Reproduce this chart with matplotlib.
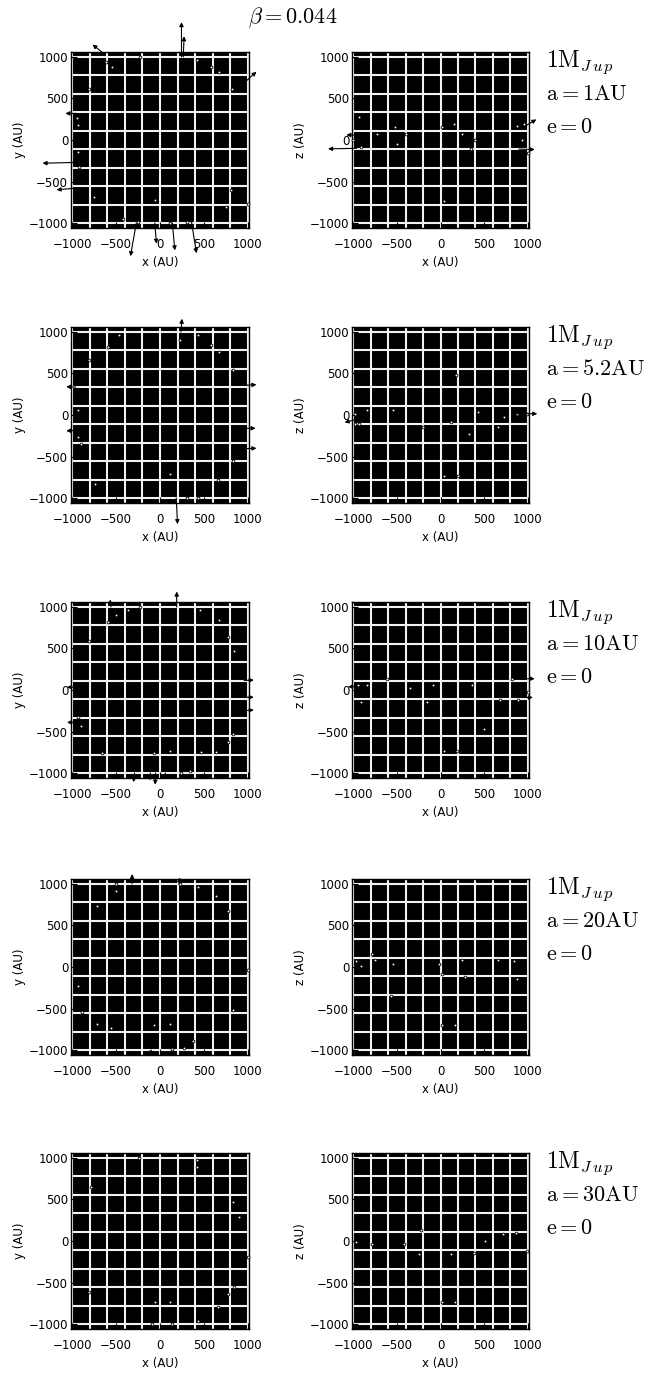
import numpy as np
import matplotlib
matplotlib.use("Agg")
import matplotlib.pyplot as plt

plt.rcParams['mathtext.fontset'] = 'cm'

# semi-major axis of the planet in each row
a_labels = ["1", "5.2", "10", "20", "30"]
beta = "0.044"

# particles seen in the x-y plane (AU), one list per row
xy_points = [
    [(-543, 883), (427, 964), (584, 883), (674, 822), (820, 620), (-809, 620),
     (-933, 176), (-921, -329), (-753, -689), (809, -608), (1000, -770),
     (753, -810), (-427, -947), (-247, -985), (-56, -717), (112, -1000),
     (303, -985), (-618, 940), (-225, 1000), (-933, -147), (-944, 269)],
    [(-596, 822), (-809, 660), (-470, 960), (438, 960), (584, 840), (674, 760),
     (831, 540), (-933, 55), (-933, -270), (-900, -350), (831, -550),
     (-740, -830), (112, -710), (303, -1000), (438, -1000), (663, -780), (225, 900)],
    [(-596, 822), (-506, 900), (-370, 960), (-225, 1000), (460, 960), (674, 842),
     (775, 640), (843, 470), (-809, 590), (-933, -330), (-900, -430),
     (-663, -753), (-64, -753), (112, -740), (236, -996), (337, -980),
     (472, -750), (640, -750), (775, -630), (831, -530)],
    [(-506, 1000), (-506, 920), (-720, 737), (225, 1000), (438, 960), (640, 860),
     (775, 680), (-933, -232), (-888, -545), (-720, -690), (-563, -730),
     (-64, -700), (112, -690), (135, -990), (270, -970), (372, -890),
     (831, -518), (1000, -32)],
    [(-236, 1000), (427, 976), (427, 895), (-786, 652), (831, 470), (900, 290),
     (1000, -196), (843, -560), (775, -640), (663, -800), (438, -963),
     (112, -740), (-56, -740), (-90, -1000), (135, -1000), (-809, -620)],
]

# particles seen in the x-z plane (AU), one list per row
xz_points = [
    [(-929, 276), (-730, 75), (-521, 152), (-502, -50), (-390, 75), (20, 152),
     (152, 190), (241, 75), (355, -104), (393, 0), (880, 170), (958, 190),
     (940, 0), (1000, -160), (-910, -90), (-1000, 0), (35, -733)],
    [(-985, 15), (-930, -105), (-840, 55), (-545, 55), (-205, -145), (115, -85),
     (175, 479), (325, -230), (430, 35), (660, -145), (730, -30), (880, 15),
     (995, 15), (45, -733), (195, -733), (-985, -105)],
    [(-950, 55), (-910, -148), (-840, 55), (-615, 135), (-350, 30), (-160, -148),
     (-85, 55), (366, 55), (495, -470), (683, -120), (815, 135), (890, -120),
     (1000, -20), (35, -730), (190, -730)],
    [(-965, 70), (-910, 10), (-790, 160), (-750, 80), (-545, 40), (-570, -354),
     (-20, 40), (15, -80), (245, 80), (280, -120), (660, 80), (845, 70),
     (880, -150), (15, -697), (170, -697)],
    [(-965, -15), (-790, -35), (-415, -35), (-225, 127), (-245, -160),
     (115, -160), (380, -140), (510, 0), (715, 80), (865, 100), (995, -120),
     (15, -740), (170, -740)],
]

# escaping particles drawn as arrows: (x0, y0, x1, y1) in AU
xy_arrows = [
    [(245, 1000, 245, 1420), (265, 1000, 275, 1250), (-640, 1040, -770, 1150),
     (955, 684, 1100, 822), (-950, 320, -1080, 320), (-960, -270, -1340, -280),
     (-960, -580, -1180, -600), (-270, -1000, -337, -1400), (-60, -1000, -40, -1250),
     (140, -1000, 170, -1330), (360, -990, 416, -1364)],
    [(240, 1000, 250, 1160), (-960, 337, -1070, 340), (-960, -188, -1070, -190),
     (960, 358, 1100, 365), (960, -160, 1090, -160), (960, -406, 1100, -400),
     (185, -1000, 200, -1315)],
    [(190, 1000, 191, 1186), (-560, 1000, -570, 1090), (-960, 34, -1060, 34),
     (-960, -390, -1060, -390), (960, 115, 1070, 120), (960, -87, 1070, -87),
     (960, -250, 1070, -240), (-290, -1000, -303, -1110), (-110, -1000, -115, -1090),
     (-50, -1000, -56, -1140), (60, -1000, 70, -1080)],
    [(-318, 1000, -318, 1121), (215, 1000, 225, 1080), (-100, -1000, -110, -1070)],
    [],
]

xz_arrows = [
    [(-960, -100, -1290, -107), (977, 170, 1100, 248), (900, -110, 1080, -115),
     (-980, 60, -1080, 60)],
    [(880, 15, 1110, 15), (-990, -60, -1100, -90)],
    [(940, 136, 1080, 136), (940, -90, 1060, -90), (-990, 40, -1060, 40)],
    [],
    [],
]

W, H = 651, 1376
fig = plt.figure(figsize=(W / 100, H / 100), dpi=100)

row_tops = [52, 327, 602, 879, 1153]
panel_h = 176
lefts = [71, 352]
widths = [178, 177]

tick_font = dict(family='DejaVu Sans', size=8.5)


def setup_panel(ax, ylab):
    ax.set_facecolor('black')
    ax.set_xlim(-1015, 1015)
    ax.set_ylim(-1060, 1060)
    ax.vlines(np.arange(-1000, 1001, 200), -1060, 1060, color='#f2f2f2', lw=1.5, zorder=1)
    ax.hlines(np.linspace(-1000, 1000, 10), -1015, 1015, color='#f2f2f2', lw=1.5, zorder=1)
    ticks = [-1000, -500, 0, 500, 1000]
    labels = [str(t).replace('-', '\u2212') for t in ticks]
    ax.set_xticks(ticks)
    ax.set_yticks(ticks)
    ax.set_xticklabels(labels, fontdict=tick_font)
    ax.set_yticklabels(labels, fontdict=tick_font)
    ax.tick_params(direction='in', length=4, color='black')
    ax.tick_params(axis='x', pad=7)
    ax.tick_params(axis='y', pad=2)
    ax.set_xlabel('x (AU)', fontdict=tick_font, labelpad=4)
    ax.set_ylabel(ylab + ' (AU)', fontdict=tick_font, labelpad=2)
    for s in ax.spines.values():
        s.set_color('black')
        s.set_linewidth(1.0)


def draw_particles(ax, pts, arrows):
    if pts:
        xs, ys = zip(*pts)
        ax.plot(xs, ys, ls='none', marker='o', ms=2.0, mfc='white', mec='black',
                mew=0.6, zorder=3, clip_on=False)
    for x0, y0, x1, y1 in arrows:
        ax.annotate('', xy=(x1, y1), xytext=(x0, y0), annotation_clip=False,
                    arrowprops=dict(arrowstyle='-|>', color='black', lw=0.8,
                                    mutation_scale=6, shrinkA=0, shrinkB=0),
                    zorder=4)


for r, a in enumerate(a_labels):
    bottom = 1 - (row_tops[r] + panel_h) / H
    ax1 = fig.add_axes([lefts[0] / W, bottom, widths[0] / W, panel_h / H])
    ax2 = fig.add_axes([lefts[1] / W, bottom, widths[1] / W, panel_h / H])
    setup_panel(ax1, 'y')
    setup_panel(ax2, 'z')
    draw_particles(ax1, xy_points[r], xy_arrows[r])
    draw_particles(ax2, xz_points[r], xz_arrows[r])

    tx = (546 - lefts[1]) / widths[1]
    ax2.text(tx, 0.94, r'$\mathrm{1M}_{J\,u\,p}$', transform=ax2.transAxes,
             fontsize=17, va='center', ha='left')
    ax2.text(tx, 0.76, r'$\mathrm{a{=}' + a + r'AU}$', transform=ax2.transAxes,
             fontsize=16, va='center', ha='left')
    ax2.text(tx, 0.575, r'$\mathrm{e{=}0}$', transform=ax2.transAxes,
             fontsize=16, va='center', ha='left')

fig.text(293 / W, 1 - 18 / H, r'$\beta\mathrm{{=}' + beta + '}$', fontsize=16,
         ha='center', va='center')

fig.savefig('out.png', dpi=100)
